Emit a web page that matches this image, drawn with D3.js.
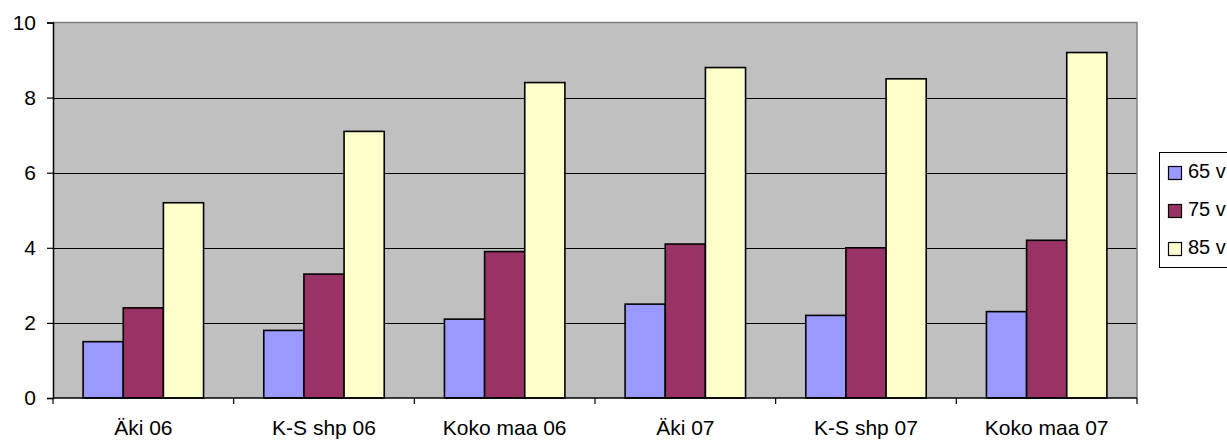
<!DOCTYPE html>
<html>
<head>
<meta charset="utf-8">
<script src="https://cdn.jsdelivr.net/npm/d3@7"></script>
<style>
  body { margin: 0; background: #fff; }
  svg { display: block; font-family: Arial, "Liberation Sans", sans-serif; }
</style>
</head>
<body>
<svg id="chart" width="1227" height="440"></svg>
<script>
const categories = ["Äki 06", "K-S shp 06", "Koko maa 06", "Äki 07", "K-S shp 07", "Koko maa 07"];
const seriesNames = ["65 v", "75 v", "85 v"];
const v65 = [1.5, 1.8, 2.1, 2.5, 2.2, 2.3];
const v75 = [2.4, 3.3, 3.9, 4.1, 4.0, 4.2];
const v85 = [5.2, 7.1, 8.4, 8.8, 8.5, 9.2];
const yTicks = [0, 2, 4, 6, 8, 10];
const colors = ["#9999FF", "#993366", "#FFFFCC"];

const seriesValues = [v65, v75, v85];
const svg = d3.select("#chart");
const plot = { left: 53, right: 1137, top: 22.5, bottom: 398 };

const x0 = d3.scaleBand().domain(categories).range([plot.left, plot.right]).paddingInner(0).paddingOuter(0);
const x1 = d3.scaleBand().domain(seriesNames).range([0, x0.bandwidth()]).paddingInner(0).paddingOuter(0.75);
const y = d3.scaleLinear().domain([0, 10]).range([plot.bottom, plot.top]);

// plot background
svg.append("rect")
  .attr("x", plot.left).attr("y", plot.top)
  .attr("width", plot.right - plot.left).attr("height", plot.bottom - plot.top)
  .attr("fill", "#C0C0C0");

// gridlines
svg.append("g").selectAll("line")
  .data(yTicks.filter(t => t > 0 && t < 10))
  .join("line")
  .attr("x1", plot.left).attr("x2", plot.right)
  .attr("y1", d => Math.round(y(d)) + 0.5).attr("y2", d => Math.round(y(d)) + 0.5)
  .attr("stroke", "#000").attr("stroke-width", 1);

// top & right border
svg.append("path")
  .attr("d", `M${plot.left},${plot.top}H${plot.right}V${plot.bottom}`)
  .attr("fill", "none").attr("stroke", "#808080").attr("stroke-width", 1.5);

// bars
const rows = categories.map((c, i) => ({ cat: c, vals: seriesNames.map((s, j) => ({ s, j, v: seriesValues[j][i] })) }));
svg.append("g").selectAll("g")
  .data(rows)
  .join("g")
  .attr("transform", d => `translate(${x0(d.cat)},0)`)
  .selectAll("rect")
  .data(d => d.vals)
  .join("rect")
  .attr("x", d => x1(d.s))
  .attr("y", d => y(d.v))
  .attr("width", x1.bandwidth())
  .attr("height", d => y(0) - y(d.v))
  .attr("fill", d => colors[d.j])
  .attr("stroke", "#000")
  .attr("stroke-width", 1.6);

// y axis
const yAxis = d3.axisLeft(y).tickValues(yTicks).tickFormat(d3.format("d")).tickSize(6).tickPadding(11);
const yg = svg.append("g").attr("transform", `translate(${plot.left},0)`).call(yAxis);
yg.select(".domain").attr("stroke", "#000").attr("stroke-width", 1.5);
yg.selectAll(".tick line").attr("stroke", "#000").attr("stroke-width", 1.2);
yg.selectAll("text").attr("font-size", 21).attr("fill", "#000").attr("font-family", "Arial, 'Liberation Sans', sans-serif");

// x axis (labels)
const xAxis = d3.axisBottom(x0).tickSize(0).tickPadding(22);
const xg = svg.append("g").attr("transform", `translate(0,${plot.bottom})`).call(xAxis);
xg.select(".domain").remove();
xg.selectAll("text").attr("font-size", 21).attr("fill", "#000").attr("font-family", "Arial, 'Liberation Sans', sans-serif");

// x axis line and boundary ticks
svg.append("line")
  .attr("x1", plot.left).attr("x2", plot.right)
  .attr("y1", plot.bottom).attr("y2", plot.bottom)
  .attr("stroke", "#000").attr("stroke-width", 1.5);
const boundaries = categories.map(c => x0(c)).concat([x0.range()[1]]);
svg.append("g").selectAll("line")
  .data(boundaries)
  .join("line")
  .attr("x1", d => d).attr("x2", d => d)
  .attr("y1", plot.bottom).attr("y2", plot.bottom + 6)
  .attr("stroke", "#000").attr("stroke-width", 1.2);

// legend
const lg = svg.append("g");
lg.append("rect")
  .attr("x", 1159.5).attr("y", 152.5)
  .attr("width", 100).attr("height", 115)
  .attr("fill", "#fff").attr("stroke", "#000").attr("stroke-width", 1);
const items = lg.selectAll("g.item")
  .data(seriesNames)
  .join("g")
  .attr("class", "item")
  .attr("transform", (d, i) => `translate(0,${i * 38})`);
items.append("rect")
  .attr("x", 1168.5).attr("y", 166.5)
  .attr("width", 13).attr("height", 13)
  .attr("fill", (d, i) => colors[i])
  .attr("stroke", "#000").attr("stroke-width", 1.2);
items.append("text")
  .attr("x", 1188).attr("y", 178)
  .attr("font-size", 20)
  .attr("fill", "#000")
  .text(d => d);
</script>
</body>
</html>
